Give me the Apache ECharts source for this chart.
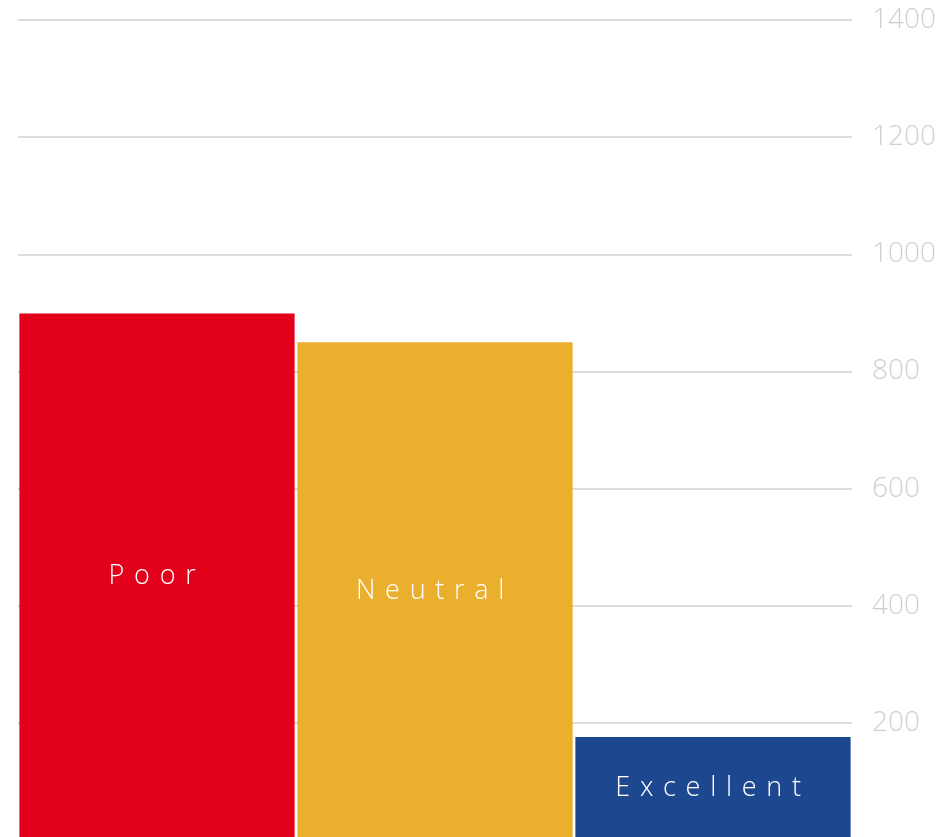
<!DOCTYPE html>
<html><head><meta charset="utf-8">
<script src="https://cdn.jsdelivr.net/npm/echarts@6/dist/echarts.min.js"></script>
<style>html,body{margin:0;padding:0;background:#fff;overflow:hidden}#c{width:940px;height:840px}</style>
</head><body><div id="c"></div>
<script>
const categories = ['Poor', 'Neutral', 'Excellent'];
const values = [899, 850, 176];
const barColors = ['#E3001B', '#EAAF2D', '#1D478E'];
const yTicks = { min: 0, max: 1400, interval: 200 };

const chart = echarts.init(document.getElementById('c'));
chart.setOption({
  animation: false,
  grid: { left: 18, right: 88, top: 20, bottom: 0, containLabel: false, outerBoundsMode: 'none' },
  xAxis: {
    type: 'category', data: categories,
    axisLine: { show: false }, axisTick: { show: false }, axisLabel: { show: false }
  },
  yAxis: {
    type: 'value', position: 'right', min: yTicks.min, max: yTicks.max, interval: yTicks.interval,
    axisLine: { show: false }, axisTick: { show: false },
    splitLine: { lineStyle: { color: '#dcdcdc', width: 2 } },
    axisLabel: { color: '#cfcfcf', fontSize: 28, fontFamily: 'Open Sans', fontWeight: 300, margin: 20,
      showMinLabel: false, formatter: v => (v === 0 ? '' : String(v)) }
  },
  series: [{
    type: 'bar', barCategoryGap: '1%',
    data: values.map((v, i) => ({ value: v, itemStyle: { color: barColors[i] } })),
    label: {
      show: true, position: 'inside', color: '#fff', fontSize: 27,
      fontFamily: 'Open Sans', fontWeight: 300,
      formatter: p => p.name.split('').join(' \u200A') + ' \u200A'
    }
  }]
});
</script></body></html>
